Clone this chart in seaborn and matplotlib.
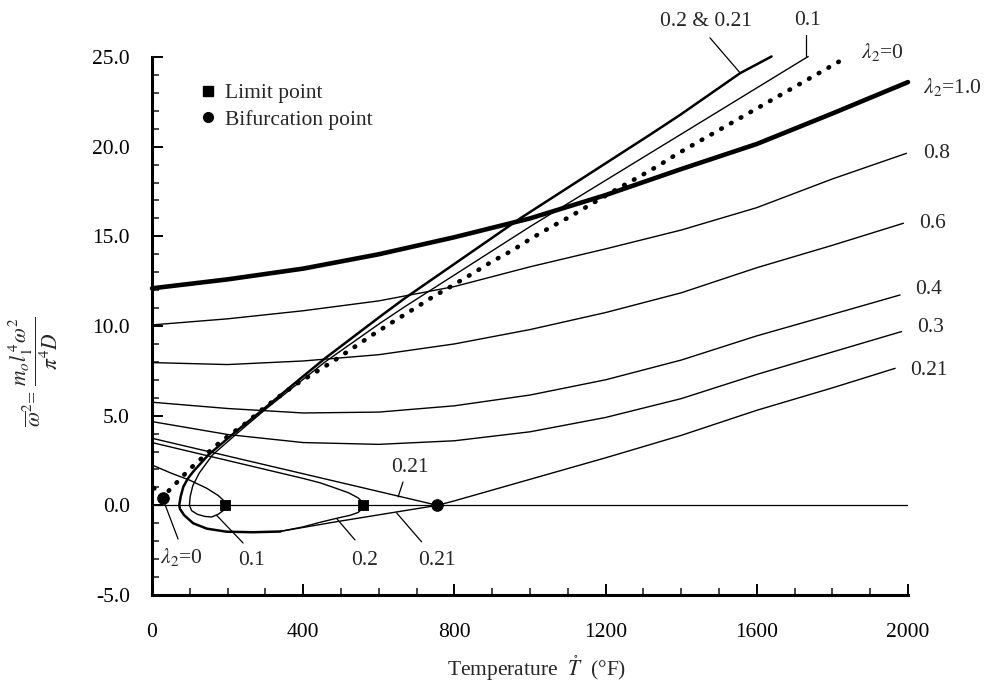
import matplotlib
matplotlib.use("Agg")
import matplotlib.pyplot as plt
import seaborn as sns
from matplotlib.lines import Line2D
from matplotlib.ticker import MultipleLocator, FormatStrFormatter

# ---- curve data: temperature (deg F) and nondimensional frequency squared ----
# lambda2 = 1.0
t_lam10 = [0, 200, 400, 600, 800, 1000, 1200, 1400, 1600, 1800, 2000]
w_lam10 = [12.1, 12.6, 13.2, 14.0, 14.95, 16.0, 17.3, 18.75, 20.15, 21.85, 23.6]
# lambda2 = 0.8
t_lam08 = [0, 200, 400, 600, 800, 1000, 1200, 1400, 1600, 1800, 1996]
w_lam08 = [10.06, 10.4, 10.85, 11.4, 12.2, 13.3, 14.3, 15.35, 16.6, 18.2, 19.63]
# lambda2 = 0.6
t_lam06 = [0, 200, 400, 600, 800, 1000, 1200, 1400, 1600, 1800, 1988]
w_lam06 = [7.96, 7.85, 8.05, 8.4, 9.0, 9.8, 10.75, 11.85, 13.25, 14.5, 15.73]
# lambda2 = 0.4
t_lam04 = [0, 200, 400, 600, 800, 1000, 1200, 1400, 1600, 1800, 1979]
w_lam04 = [5.75, 5.4, 5.15, 5.2, 5.55, 6.15, 7.0, 8.1, 9.45, 10.65, 11.73]
# lambda2 = 0.3
t_lam03 = [0, 200, 400, 600, 800, 1000, 1200, 1400, 1600, 1800, 1983]
w_lam03 = [4.67, 3.95, 3.5, 3.4, 3.6, 4.1, 4.9, 5.95, 7.3, 8.55, 9.69]
# lambda2 = 0.21 : pre-buckling, lower branch, post-bifurcation branch
t_lam021_pre = [0, 200, 400, 600, 755]
w_lam021_pre = [3.74, 2.75, 1.76, 0.77, 0.0]
t_lam021_low = [755, 489, 340]
w_lam021_low = [0.0, -0.91, -1.45]
t_lam021_post = [755, 800, 1000, 1200, 1400, 1600, 1800, 1966]
w_lam021_post = [0.0, 0.25, 1.45, 2.65, 3.9, 5.3, 6.55, 7.64]
# lambda2 = 0.2 : pre-buckling and lower branch meeting at the limit point
t_lam02_pre = [0, 200, 400, 444, 480, 520, 545, 555, 559]
w_lam02_pre = [3.5, 2.5, 1.5, 1.26, 1.0, 0.7, 0.42, 0.22, 0.0]
t_lam02_low = [559, 555, 545, 525, 489, 444, 400, 340]
w_lam02_low = [0.0, -0.22, -0.4, -0.55, -0.72, -0.95, -1.2, -1.45]
# shared loop and post-buckling branch of lambda2 = 0.2 & 0.21
t_loop02 = [340, 268, 197, 145, 109, 85, 74, 72, 76, 83, 95, 109, 149, 224,
            303, 380, 458, 603, 669, 974, 1317, 1397, 1556, 1639]
w_loop02 = [-1.46, -1.5, -1.47, -1.3, -1.0, -0.55, -0.2, 0.0, 0.5, 1.04, 1.5,
            1.88, 2.81, 4.15, 5.5, 6.85, 8.2, 10.52, 11.55, 16.0, 20.66, 21.77,
            24.1, 25.03]
# lambda2 = 0.1
t_lam01_pre = [0, 50, 100, 145, 175, 188, 193]
w_lam01_pre = [2.25, 1.8, 1.4, 0.95, 0.55, 0.3, 0.0]
t_lam01_loop = [193, 188, 175, 158, 140, 120, 105, 99, 101, 108, 125, 160, 230,
                303, 458, 603, 669, 1000, 1317, 1397, 1736]
w_lam01_loop = [0.0, -0.3, -0.5, -0.65, -0.62, -0.5, -0.3, 0.0, 0.5, 1.1, 1.8,
                2.81, 4.1, 5.4, 8.0, 10.15, 11.08, 15.54, 19.63, 20.66, 25.03]
# lambda2 = 0 (dotted)
t_lam0 = [5, 28, 48, 70, 96, 121, 172, 205, 250, 290, 330, 378, 431, 484, 537,
          590, 638, 691, 744, 793, 846, 899, 952, 1000, 1053, 1106, 1154, 1234,
          1287, 1339, 1388, 1833]
w_lam0 = [0.97, 0.42, 0.9, 1.37, 1.95, 2.43, 3.38, 3.92, 4.61, 5.32, 5.97, 6.71,
          7.4, 8.1, 8.85, 9.6, 10.24, 10.93, 11.64, 12.23, 12.9, 13.59, 14.2,
          14.84, 15.49, 16.1, 16.7, 17.68, 18.3, 18.93, 19.58, 24.93]
# special points
t_limit = [193, 559]
w_limit = [0.0, 0.0]
t_bifur = [28, 755]
w_bifur = [0.42, 0.0]

# ---- style ----
sns.set_theme(style="ticks")
plt.rcParams["font.family"] = ["Liberation Serif", "DejaVu Serif"]
plt.rcParams["mathtext.fontset"] = "stix"
FS = 15.5

W, H = 984, 682
fig = plt.figure(figsize=(W / 100, H / 100), dpi=100)
fig.patch.set_facecolor("white")
ax = fig.add_axes([152 / W, 87 / H, 756 / W, 538 / H])
ax.set_facecolor("white")


def draw(t, w, lw=1.0, **kw):
    sns.lineplot(x=t, y=w, sort=False, estimator=None, ax=ax, color="black",
                 linewidth=lw, clip_on=False, **kw)


# zero reference line
ax.plot([0, 2000], [0, 0], color="black", lw=0.9)

draw(t_lam10, w_lam10, lw=3.3)
draw(t_lam08, w_lam08)
draw(t_lam06, w_lam06)
draw(t_lam04, w_lam04)
draw(t_lam03, w_lam03)
draw(t_lam021_pre, w_lam021_pre)
draw(t_lam021_low, w_lam021_low)
draw(t_lam021_post, w_lam021_post)
draw(t_lam02_pre, w_lam02_pre)
draw(t_lam02_low, w_lam02_low)
draw(t_loop02, w_loop02, lw=1.8)
draw(t_lam01_pre, w_lam01_pre)
draw(t_lam01_loop, w_lam01_loop)
draw(t_lam0, w_lam0, lw=3.3, linestyle=(0, (0.15, 2.3)),
     dash_capstyle="round")

sns.scatterplot(x=t_limit, y=w_limit, marker="s", s=60, color="black",
                edgecolor="black", ax=ax, zorder=5, clip_on=False)
sns.scatterplot(x=t_bifur, y=w_bifur, marker="o", s=70, color="black",
                edgecolor="black", ax=ax, zorder=5, clip_on=False)

# ---- axes ----
ax.set_xlim(0, 2000)
ax.set_ylim(-5, 25)
ax.xaxis.set_major_locator(MultipleLocator(400))
ax.xaxis.set_minor_locator(MultipleLocator(100))
ax.yaxis.set_major_locator(MultipleLocator(5))
ax.yaxis.set_minor_locator(MultipleLocator(1))
ax.yaxis.set_major_formatter(FormatStrFormatter("%.1f"))
for s in ("top", "right"):
    ax.spines[s].set_visible(False)
for s in ("left", "bottom"):
    ax.spines[s].set_linewidth(2.2)
    ax.spines[s].set_color("black")
ax.tick_params(which="major", direction="in", length=8, width=1.4,
               labelsize=FS, colors="black")
ax.tick_params(which="minor", direction="in", length=5, width=1.2)
ax.tick_params(axis="y", which="major", pad=16)
ax.tick_params(axis="x", which="major", pad=20)

fig.text(537 / W, 1 - 668 / H, r"Temperature  $\mathring{T}$  (°F)",
         ha="center", va="center", fontsize=FS)
fig.text(33 / W, 1 - 372 / H,
         r"$\overline{\omega}^{2}$= $\dfrac{m_o l_1^{\,4}\omega^2}{\pi^4 D}$",
         ha="center", va="center", rotation=90, fontsize=FS)

# ---- curve labels ----
def lab(x, y, s, ha="center"):
    ax.text(x, y, s, ha=ha, va="center", fontsize=FS, clip_on=False)


def lead(x0, y0, x1, y1):
    ax.plot([x0, x1], [y0, y1], color="black", lw=0.9, clip_on=False)


lab(1466, 27.0, "0.2 & 0.21")
lead(1476, 26.07, 1556, 24.11)
lab(1733, 27.05, "0.1")
lead(1730, 26.25, 1730, 25.0)
lab(1875, 25.3, r"$\lambda_2$=0", ha="left")
lab(2040, 23.35, r"$\lambda_2$=1.0", ha="left")
lab(2040, 19.6, "0.8", ha="left")
lab(2030, 15.7, "0.6", ha="left")
lab(2020, 12.05, "0.4", ha="left")
lab(2025, 9.9, "0.3", ha="left")
lab(2005, 7.5, "0.21", ha="left")
lab(683, 2.1, "0.21")
lead(664, 1.3, 651, 0.47)
lab(563, -3.1, "0.2")
lead(537, -1.93, 489, -0.75)
lab(754, -3.1, "0.21")
lead(713, -2.03, 647, -0.42)
lab(262, -3.1, "0.1")
lead(241, -2.1, 171, -0.56)
lab(79, -2.9, r"$\lambda_2$=0")
lead(69, -1.88, 29, 0.35)

# ---- legend ----
handles = [Line2D([], [], marker="s", ls="none", color="black", ms=6.5),
           Line2D([], [], marker="o", ls="none", color="black", ms=7)]
ax.legend(handles, ["Limit point", "Bifurcation point"], loc="upper left",
          bbox_to_anchor=(199 / W, 1 - 83 / H), bbox_transform=fig.transFigure,
          frameon=False, fontsize=FS, handlelength=0.8, handletextpad=0.4,
          labelspacing=0.3, borderpad=0, borderaxespad=0)

fig.savefig("out.png", dpi=100, facecolor="white")
